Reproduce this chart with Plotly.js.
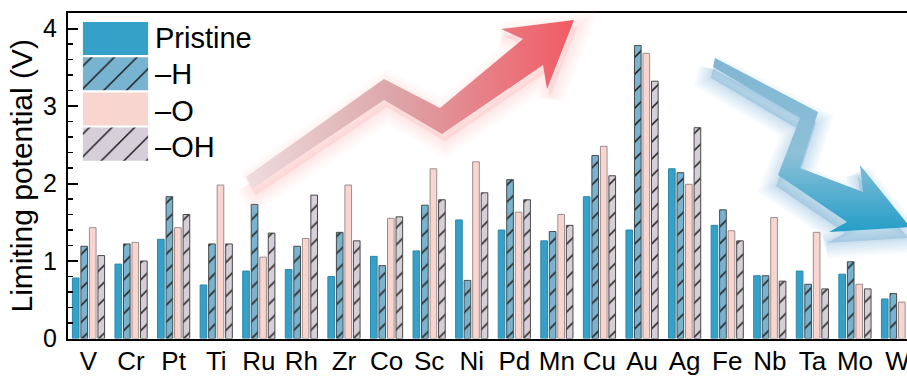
<!DOCTYPE html>
<html>
<head>
<meta charset="utf-8">
<script src="https://cdn.plot.ly/plotly-3.0.1.min.js"></script>
<style>
  html, body { margin: 0; padding: 0; background: #fff; overflow: hidden; }
  #chart { width: 907px; height: 376px; }
</style>
</head>
<body>
<div id="chart"></div>
<script>
// Limiting potential of single-atom sites, pristine vs. H/O/OH-terminated
const metals = ['V','Cr','Pt','Ti','Ru','Rh','Zr','Co','Sc','Ni','Pd','Mn','Cu','Au','Ag','Fe','Nb','Ta','Mo','W'];

const pristine = [0.78,0.96,1.28,0.69,0.87,0.89,0.80,1.06,1.13,1.53,1.40,1.26,1.83,1.40,2.19,1.46,0.81,0.87,0.83,0.51];
const termH    = [1.19,1.22,1.83,1.22,1.73,1.19,1.37,0.94,1.72,0.75,2.05,1.38,2.36,3.78,2.14,1.66,0.81,0.70,0.99,0.58];
const termO    = [1.43,1.24,1.43,1.98,1.05,1.29,1.98,1.55,2.19,2.28,1.63,1.60,2.48,3.68,1.99,1.39,1.56,1.37,0.70,0.47];
const termOH   = [1.07,1.00,1.60,1.22,1.36,1.85,1.26,1.57,1.79,1.88,1.79,1.46,2.10,3.32,2.72,1.26,0.74,0.64,0.64,null];

const seriesNames = ['Pristine', '\u2013H', '\u2013O', '\u2013OH'];
const seriesData  = [pristine, termH, termO, termOH];
const fills       = ['#35a1c8', '#78b3d0', '#f9d5cf', '#d6cfda'];
const hatches     = ['', '/', '', '/'];
const edges       = ['#2b88ab', '#4a4a4a', '#9a8f8f', '#4a4a4a'];

const W = 907, H = 376;
const FONT = 'Liberation Sans, Arial, Helvetica, sans-serif';

const traces = [];

function markerFor(i, size, solidity, withEdge) {
  const m = {
    color: fills[i],
    line: withEdge ? { color: edges[i], width: 1 } : { width: 0 }
  };
  if (hatches[i]) {
    m.pattern = { shape: hatches[i], fillmode: 'replace', bgcolor: fills[i], fgcolor: '#1a1a1a', size: size, solidity: solidity };
  }
  return m;
}

// grouped bars
seriesData.forEach((vals, i) => {
  traces.push({
    type: 'bar',
    name: seriesNames[i],
    x: metals,
    y: vals,
    xaxis: 'x', yaxis: 'y',
    marker: markerFor(i, 12, 0.13, true),
    showlegend: false,
    hoverinfo: 'skip'
  });
});

// key swatches, one small bar per series so the hatching matches the bars
seriesNames.forEach((n, i) => {
  traces.push({
    type: 'bar',
    orientation: 'h',
    x: [1],
    y: [i],
    base: 0,
    width: 0.94,
    offset: -0.47,
    xaxis: 'x3', yaxis: 'y3',
    marker: markerFor(i, 16, 0.09, false),
    showlegend: false,
    hoverinfo: 'skip'
  });
});

// trend arrows (pixel space overlay)
function arrowTraces(pts, grad, shadow) {
  const out = [];
  const xs = pts.map(p => p[0]), ys = pts.map(p => p[1]);
  xs.push(pts[0][0]); ys.push(pts[0][1]);
  // soft drop shadow built from stacked translucent outlines
  shadow.layers.forEach((lw, k) => {
    out.push({
      type: 'scatter', mode: 'lines', xaxis: 'x2', yaxis: 'y2',
      x: xs.map(v => v + shadow.dx), y: ys.map(v => v + shadow.dy),
      fill: k === shadow.layers.length - 1 ? 'toself' : 'none',
      fillcolor: shadow.fill,
      line: { color: shadow.color, width: lw },
      showlegend: false, hoverinfo: 'skip'
    });
  });
  out.push({
    type: 'scatter', mode: 'lines', xaxis: 'x2', yaxis: 'y2',
    x: xs, y: ys,
    fill: 'toself',
    fillgradient: grad,
    line: { width: 0 },
    showlegend: false, hoverinfo: 'skip'
  });
  return out;
}

const upArrow = [[246,177],[384,79],[440,108],[523,39],[501,29],[574,20],[547,89],[543,65],[442,134],[384,100],[253,188]];
const downArrow = [[715,58],[818,112],[800,168],[863,192],[860,165],[910,227],[829,232],[847,222],[778,175],[800,118],[713,67]];

const blurSteps = [30, 26, 22, 18, 14, 10, 6, 3];

traces.push(...arrowTraces(upArrow,
  { type: 'horizontal', start: 246, stop: 574,
    colorscale: [[0,'rgb(238,220,222)'],[0.45,'rgb(220,166,169)'],[1,'rgb(242,90,100)']] },
  { dx: 3, dy: 7, color: 'rgba(244,160,160,0.03)', fill: 'rgba(244,160,160,0.22)', layers: blurSteps }));

traces.push(...arrowTraces(downArrow,
  { type: 'vertical', start: 58, stop: 232,
    colorscale: [[0,'rgb(128,182,210)'],[0.55,'rgb(142,192,216)'],[1,'rgb(36,158,200)']] },
  { dx: -2, dy: 11, color: 'rgba(80,155,200,0.04)', fill: 'rgba(80,155,200,0.3)', layers: blurSteps }));

// key labels
const keyTop = 21, keyPitch = 36.5, keyH = 33;
const annotations = seriesNames.map((n, i) => ({
  xref: 'paper', yref: 'paper',
  x: 153 / W, y: 1 - (keyTop + i * keyPitch + keyH / 2) / H,
  xanchor: 'left', yanchor: 'middle',
  text: n, showarrow: false,
  font: { family: FONT, size: 29, color: '#000' }
}));

const plotLeft = 68, plotTop = 13, plotBottom = 338.5;

const layout = {
  width: W, height: H,
  margin: { l: 0, r: 0, t: 0, b: 0, pad: 0 },
  paper_bgcolor: '#ffffff',
  plot_bgcolor: 'rgba(0,0,0,0)',
  barmode: 'group',
  bargap: 0.2,
  bargroupgap: 0.22,
  showlegend: false,
  font: { family: FONT, color: '#000' },
  xaxis: {
    domain: [plotLeft / W, 1],
    type: 'category',
    range: [-0.481, 19.222],
    showline: true, linecolor: '#000', linewidth: 2, mirror: true,
    ticks: '', showgrid: false, zeroline: false,
    tickfont: { family: FONT, size: 26, color: '#000' },
    ticklabelstandoff: -2
  },
  yaxis: {
    domain: [1 - plotBottom / H, 1 - plotTop / H],
    range: [0, 4.2],
    dtick: 1, tick0: 0,
    ticks: 'inside', ticklen: 10, tickwidth: 2, tickcolor: '#000',
    minor: { dtick: 0.2, tick0: 0, ticks: 'inside', ticklen: 5, tickwidth: 1.5, tickcolor: '#000' },
    showline: true, linecolor: '#000', linewidth: 2, mirror: false,
    showgrid: false, zeroline: false,
    tickfont: { family: FONT, size: 25, color: '#000' },
    ticklabelstandoff: 4,
    title: { text: 'Limiting potential (V)', font: { family: FONT, size: 30, color: '#000' }, standoff: 2 }
  },
  xaxis2: { domain: [0, 1], range: [0, W], visible: false, fixedrange: true },
  yaxis2: { domain: [0, 1], range: [H, 0], visible: false, fixedrange: true },
  xaxis3: { domain: [82.7 / W, 148.3 / W], range: [0, 1], visible: false, fixedrange: true },
  yaxis3: { domain: [1 - 161.7 / H, 1 - 21 / H], range: [3.5, -0.5], visible: false, fixedrange: true },
  annotations: annotations
};

Plotly.newPlot('chart', traces, layout, { staticPlot: true, displayModeBar: false });
</script>
</body>
</html>
